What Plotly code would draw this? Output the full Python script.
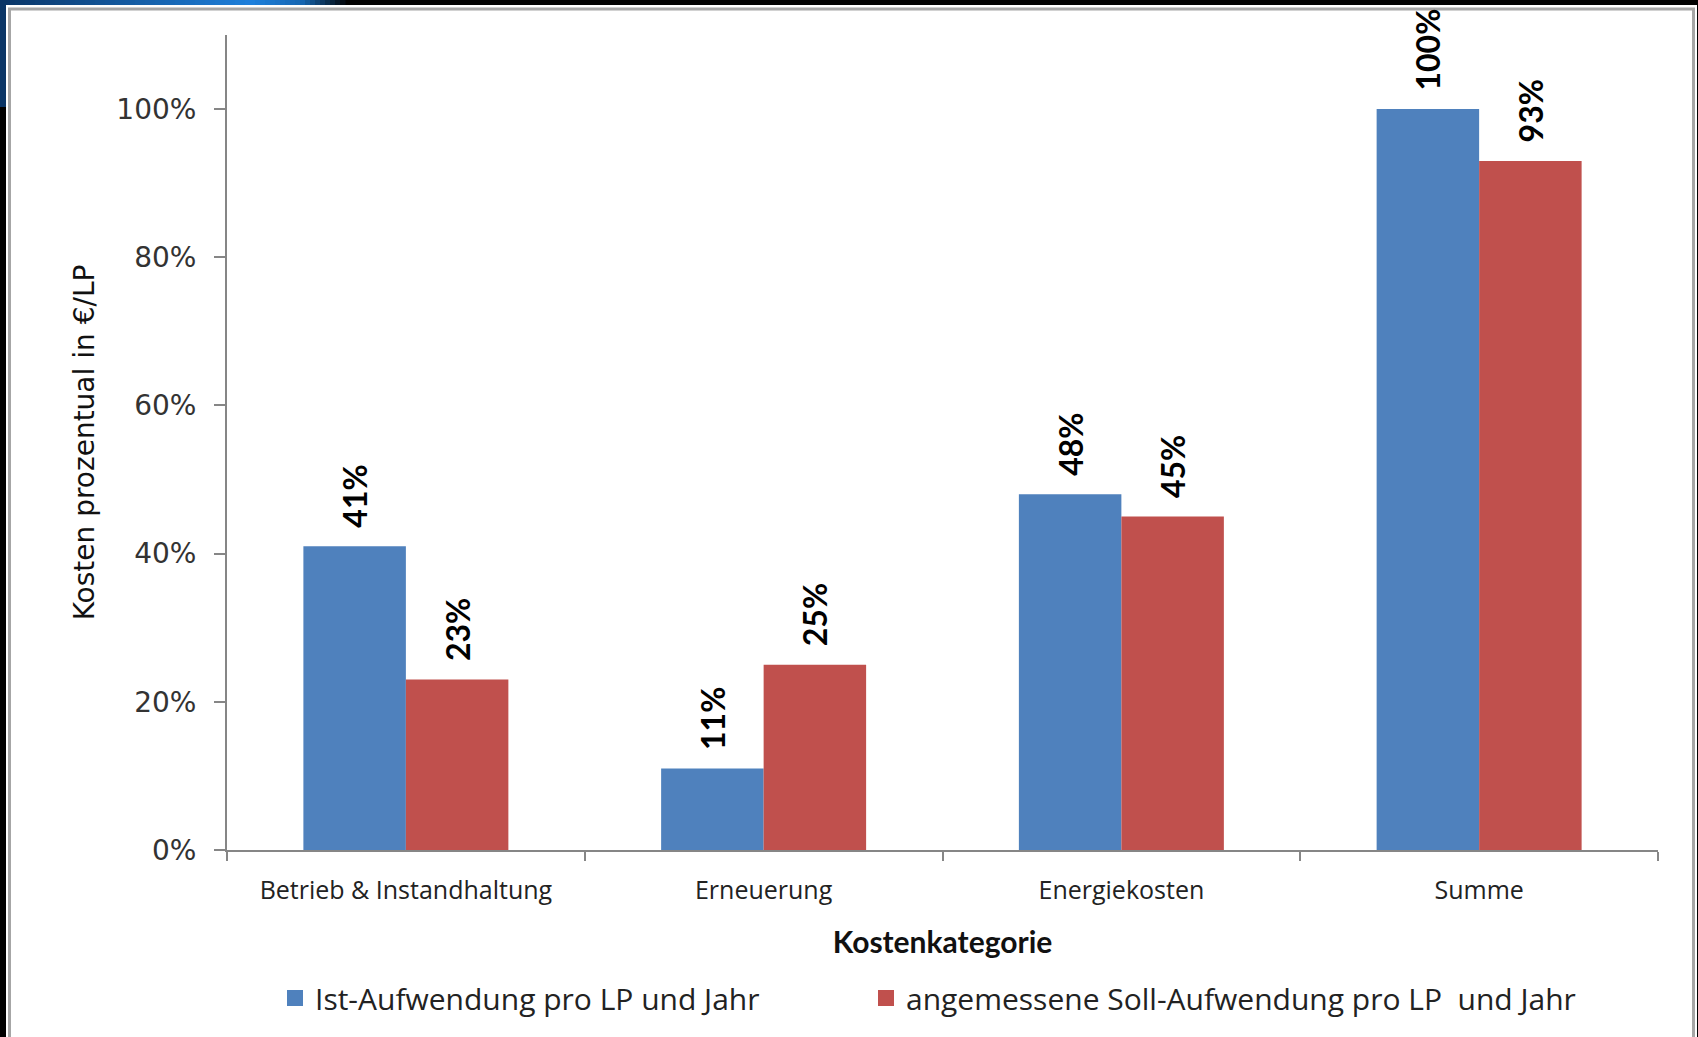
import plotly.graph_objects as go

categories = ["Betrieb & Instandhaltung", "Erneuerung", "Energiekosten", "Summe"]
ist_values = [41, 11, 48, 100]
soll_values = [23, 25, 45, 93]
series_names = ["Ist-Aufwendung pro LP und Jahr", "angemessene Soll-Aufwendung pro LP&nbsp; und Jahr"]
y_ticks = [0, 20, 40, 60, 80, 100]
x_title = "Kostenkategorie"
y_title = "Kosten prozentual in €/LP"

W, H = 1698, 1037
ML, MR, MT, MB = 227, 40, 35, 187
PW, PH = W - ML - MR, H - MT - MB


def px(x):
    return (x - ML) / PW


def py(y):
    return (H - MB - y) / PH


BLUE = "#4F81BD"
RED = "#C0504D"
AXIS = "#868686"
LABEL_FONT = dict(family="Lato", size=32, color="black", weight="bold")

fig = go.Figure()
for vals, color in ((ist_values, BLUE), (soll_values, RED)):
    fig.add_trace(go.Bar(
        x=categories, y=vals, marker_color=color, marker_line_width=0,
        text=[f"&nbsp;&nbsp;{v}%" for v in vals], textposition="outside", textangle=-90,
        textfont=LABEL_FONT, cliponaxis=False, constraintext="none",
        showlegend=False,
    ))

# legend entries (square swatches)
for name, color, leg in ((series_names[0], BLUE, "legend"), (series_names[1], RED, "legend2")):
    fig.add_trace(go.Scatter(
        x=[categories[0]], y=[None], mode="markers", name=name, legend=leg,
        marker=dict(symbol="square", size=16, color=color, line_width=0),
        showlegend=True, hoverinfo="skip",
    ))


# decorative frame: smooth blue gradient strip at the top-left
def lerp(c1, c2, t):
    a = [int(c1[i:i + 2], 16) for i in (1, 3, 5)]
    b = [int(c2[i:i + 2], 16) for i in (1, 3, 5)]
    return "#" + "".join(f"{round(a[k] + (b[k] - a[k]) * t):02x}" for k in range(3))


stops = [(0, "#0A3566"), (250, "#1E80DC"), (300, "#1565B0"), (345, "#000000")]
shapes = []
step = 5
for x in range(0, 345, step):
    for (xa, ca), (xb, cb) in zip(stops[:-1], stops[1:]):
        if xa <= x < xb:
            col = lerp(ca, cb, (x - xa) / (xb - xa))
            break
    shapes.append(dict(type="rect", xref="paper", yref="paper", layer="below",
                       x0=px(x), x1=px(x + step + 0.5), y0=py(0), y1=py(5),
                       fillcolor=col, line_width=0))
shapes.append(dict(type="rect", xref="paper", yref="paper", layer="below",
                   x0=px(0), x1=px(7), y0=py(0), y1=py(107),
                   fillcolor="#0A3566", line_width=0))
shapes.append(dict(type="rect", xref="paper", yref="paper", layer="below",
                   x0=px(6), x1=px(1697), y0=py(5), y1=py(1045),
                   fillcolor="white", line_width=0))
shapes.append(dict(type="rect", xref="paper", yref="paper", layer="below",
                   x0=px(9.5), x1=px(1693.5), y0=py(9), y1=py(1040),
                   fillcolor="white", line=dict(color="#A6A6A6", width=3)))

legend_common = dict(orientation="h", xanchor="left", yanchor="middle", y=py(998),
                     font=dict(family="Open Sans", size=30, color="#222"),
                     bgcolor="rgba(0,0,0,0)", itemwidth=30)

fig.update_layout(
    width=W, height=H,
    margin=dict(l=ML, r=MR, t=MT, b=MB, pad=0),
    paper_bgcolor="black", plot_bgcolor="white",
    barmode="group", bargap=0.427, bargroupgap=0,
    shapes=shapes,
    showlegend=True,
    legend=dict(x=px(275), **legend_common),
    legend2=dict(x=px(866), **legend_common),
    xaxis=dict(
        showline=True, linecolor=AXIS, linewidth=2,
        ticks="outside", ticklen=9, tickcolor=AXIS, tickwidth=2, tickson="boundaries",
        tickfont=dict(family="Open Sans", size=25, color="#222"),
        ticklabelstandoff=17,
        title=dict(text=f"<b>{x_title}</b>", font=dict(family="Lato", size=30, color="#111"), standoff=27),
        showgrid=False, zeroline=False,
    ),
    yaxis=dict(
        range=[0, 110], tickvals=y_ticks, ticktext=[f"{v}%" for v in y_ticks],
        showline=True, linecolor=AXIS, linewidth=2,
        ticks="outside", ticklen=11, tickcolor=AXIS, tickwidth=2,
        tickfont=dict(family="DejaVu Sans", size=28, color="#333"),
        ticklabelstandoff=12,
        title=dict(text=y_title, font=dict(family="DejaVu Sans", size=28, color="#111"), standoff=14),
        showgrid=False, zeroline=False,
    ),
)

fig.write_html("out.html")
